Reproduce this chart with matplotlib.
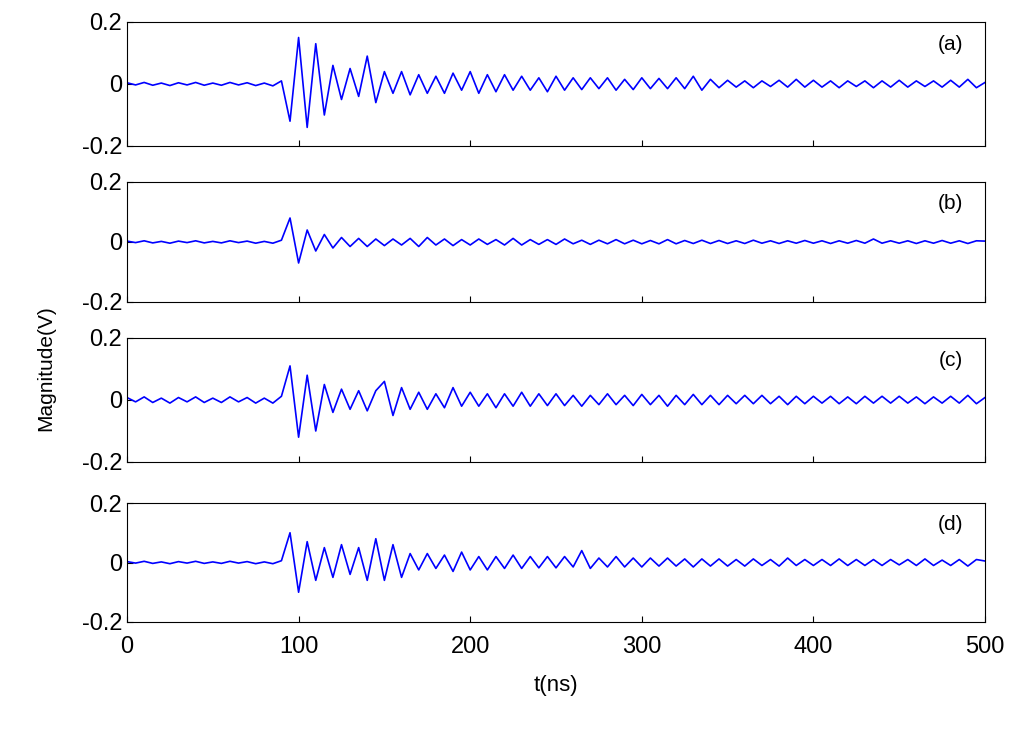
import numpy as np
import matplotlib
matplotlib.use("Agg")
import matplotlib.pyplot as plt

t_ns = list(range(0, 505, 5))
sig_a = [0.004,-0.003,0.005,-0.004,0.003,-0.005,0.004,-0.003,0.005,-0.004,
         0.003,-0.004,0.005,-0.003,0.004,-0.005,0.003,-0.006,0.01,-0.12,
         0.15,-0.14,0.13,-0.10,0.06,-0.05,0.05,-0.04,0.09,-0.06,
         0.04,-0.03,0.04,-0.035,0.03,-0.03,0.025,-0.03,0.035,-0.02,
         0.04,-0.03,0.03,-0.025,0.03,-0.02,0.025,-0.02,0.02,-0.025,
         0.025,-0.02,0.02,-0.018,0.02,-0.015,0.02,-0.02,0.015,-0.018,
         0.02,-0.015,0.018,-0.015,0.02,-0.015,0.025,-0.02,0.015,-0.012,
         0.012,-0.01,0.01,-0.012,0.01,-0.008,0.012,-0.01,0.015,-0.01,
         0.012,-0.01,0.01,-0.012,0.01,-0.008,0.01,-0.012,0.01,-0.01,
         0.012,-0.01,0.01,-0.008,0.01,-0.01,0.012,-0.01,0.015,-0.012,0.005]
sig_b = [0.003,-0.002,0.004,-0.003,0.002,-0.004,0.003,-0.002,0.004,-0.003,
         0.002,-0.003,0.004,-0.002,0.003,-0.004,0.002,-0.004,0.006,0.08,
         -0.07,0.04,-0.03,0.025,-0.02,0.015,-0.015,0.012,-0.015,0.01,
         -0.012,0.01,-0.01,0.012,-0.015,0.015,-0.01,0.01,-0.012,0.008,
         -0.01,0.01,-0.008,0.008,-0.01,0.012,-0.01,0.008,-0.008,0.008,
         -0.008,0.01,-0.006,0.006,-0.008,0.006,-0.006,0.008,-0.006,0.006,
         -0.006,0.005,-0.006,0.008,-0.006,0.005,-0.005,0.006,-0.005,0.005,
         -0.005,0.004,-0.005,0.006,-0.004,0.004,-0.005,0.004,-0.004,0.005,
         -0.004,0.004,-0.005,0.004,-0.004,0.005,-0.004,0.01,-0.004,0.004,
         -0.004,0.004,-0.005,0.004,-0.004,0.005,-0.004,0.004,-0.005,0.004,0.003]
sig_c = [0.008,-0.006,0.01,-0.008,0.006,-0.01,0.008,-0.006,0.01,-0.008,
         0.006,-0.008,0.01,-0.006,0.008,-0.01,0.006,-0.01,0.012,0.11,
         -0.12,0.08,-0.10,0.05,-0.04,0.035,-0.03,0.03,-0.035,0.03,
         0.06,-0.05,0.04,-0.03,0.025,-0.03,0.02,-0.025,0.04,-0.02,
         0.025,-0.02,0.02,-0.025,0.02,-0.02,0.025,-0.02,0.02,-0.018,
         0.02,-0.018,0.015,-0.02,0.015,-0.015,0.02,-0.015,0.015,-0.018,
         0.018,-0.015,0.015,-0.02,0.015,-0.015,0.018,-0.015,0.015,-0.015,
         0.015,-0.012,0.015,-0.012,0.015,-0.012,0.012,-0.015,0.012,-0.012,
         0.012,-0.01,0.012,-0.012,0.01,-0.012,0.012,-0.01,0.012,-0.01,
         0.012,-0.01,0.01,-0.012,0.01,-0.01,0.012,-0.01,0.015,-0.012,0.008]
sig_d = [0.003,-0.002,0.004,-0.003,0.002,-0.004,0.003,-0.002,0.004,-0.003,
         0.002,-0.003,0.004,-0.002,0.003,-0.004,0.002,-0.004,0.006,0.10,
         -0.10,0.07,-0.06,0.05,-0.05,0.06,-0.04,0.05,-0.06,0.08,
         -0.06,0.06,-0.05,0.03,-0.025,0.03,-0.02,0.025,-0.03,0.035,
         -0.025,0.02,-0.025,0.02,-0.02,0.025,-0.02,0.02,-0.018,0.02,
         -0.018,0.02,-0.015,0.04,-0.02,0.015,-0.015,0.02,-0.015,0.015,
         -0.015,0.015,-0.012,0.015,-0.012,0.012,-0.015,0.012,-0.012,0.012,
         -0.012,0.01,-0.012,0.012,-0.01,0.01,-0.012,0.015,-0.01,0.01,
         -0.01,0.01,-0.01,0.012,-0.01,0.01,-0.01,0.01,-0.01,0.01,
         -0.008,0.01,-0.01,0.012,-0.01,0.008,-0.01,0.01,-0.012,0.01,0.005]
signals = [sig_a, sig_b, sig_c, sig_d]
labels = ["(a)", "(b)", "(c)", "(d)"]
xticks = [0, 100, 200, 300, 400, 500]
yticks = [-0.2, 0, 0.2]
ytick_labels = ["-0.2", "0", "0.2"]

plt.rcParams['font.family'] = ['Liberation Sans', 'DejaVu Sans']
fig = plt.figure(figsize=(10.24, 7.37), dpi=100)
tops = [22, 182, 338, 503]
bots = [146, 302, 462, 622]
L, R = 127 / 1024, 985 / 1024
for i, s in enumerate(signals):
    y0 = 1 - bots[i] / 737
    h = (bots[i] - tops[i]) / 737
    ax = fig.add_axes([L, y0, R - L, h])
    ax.plot(t_ns, s, color=(0, 0, 1), lw=1.2)
    ax.set_xlim(0, 500)
    ax.set_ylim(-0.2, 0.2)
    ax.set_yticks(yticks)
    ax.set_yticklabels(ytick_labels, fontsize=17)
    ax.set_xticks(xticks)
    if i == 3:
        ax.set_xticklabels([str(v) for v in xticks], fontsize=17)
        ax.set_xlabel("t(ns)", fontsize=16, labelpad=12)
    else:
        ax.set_xticklabels([])
    ax.tick_params(direction='in', length=4)
    ax.tick_params(axis='x', pad=10)
    ax.text(0.96, 0.82, labels[i], transform=ax.transAxes, ha='center',
            va='center', fontsize=15)
fig.text(0.045, 0.5, "Magnitude(V)", rotation=90, va='center', ha='center', fontsize=15)
fig.savefig("out.png", dpi=100)
